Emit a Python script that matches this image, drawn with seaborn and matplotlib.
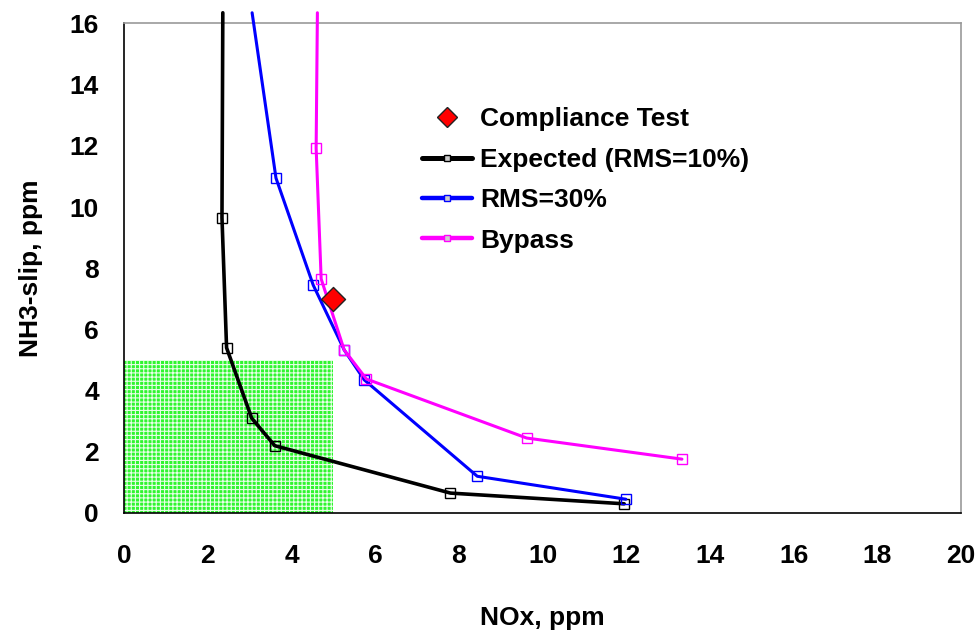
import matplotlib
matplotlib.use("Agg")
import matplotlib.pyplot as plt
from matplotlib.patches import Rectangle
from matplotlib.ticker import MultipleLocator
import seaborn as sns
import pandas as pd

# values (first point of each curve is where it leaves the top)
expected_nox = [2.36, 2.34, 2.45, 3.05, 3.6, 7.8, 11.95]
expected_nh3 = [16.35, 9.65, 5.4, 3.1, 2.2, 0.65, 0.3]
rms30_nox = [3.06, 3.63, 4.52, 5.26, 5.74, 8.44, 11.99]
rms30_nh3 = [16.35, 10.95, 7.45, 5.33, 4.35, 1.2, 0.45]
bypass_nox = [4.62, 4.59, 4.71, 5.26, 5.79, 9.62, 13.33]
bypass_nh3 = [16.35, 11.93, 7.65, 5.33, 4.38, 2.45, 1.76]
compliance_nox = [5.0]
compliance_nh3 = [7.0]
target_nox = 5
target_nh3 = 5

sns.set_style("white")
plt.rcParams['font.family'] = ['Liberation Sans', 'DejaVu Sans']
plt.rcParams['font.weight'] = 'bold'
plt.rcParams['text.color'] = 'black'
plt.rcParams['axes.labelcolor'] = 'black'
plt.rcParams['xtick.color'] = 'black'
plt.rcParams['ytick.color'] = 'black'
plt.rcParams['hatch.linewidth'] = 0.8

fig = plt.figure(figsize=(9.79, 6.33), dpi=100)
ax = fig.add_axes([0.1267, 0.1896, 0.855, 0.7733])

# green target zone
ax.add_patch(Rectangle((0, 0), target_nox, target_nh3, facecolor='#30f530',
                       edgecolor='#e8ffe8', hatch='++++', linewidth=0, zorder=1))

series = [
    ('Expected (RMS=10%)', expected_nox, expected_nh3, 'black', 2.6),
    ('RMS=30%', rms30_nox, rms30_nh3, 'blue', 2.2),
    ('Bypass', bypass_nox, bypass_nh3, '#ff00ff', 2.2),
]
handles = []
for name, xs, ys, col, lw in series:
    df = pd.DataFrame({'NOx': xs, 'NH3': ys})
    sns.lineplot(data=df, x='NOx', y='NH3', sort=False, estimator=None, ax=ax,
                 color=col, linewidth=lw, marker='s', markersize=7,
                 markerfacecolor='none', markeredgecolor=col, markeredgewidth=1.0,
                 markevery=list(range(1, len(xs))), clip_on=False, zorder=3)
    handles.append(plt.Line2D([], [], color=col, linewidth=lw + 1, marker='s',
                              markersize=5, markerfacecolor='#cccccc',
                              markeredgecolor=col, label=name))

comp = pd.DataFrame({'NOx': compliance_nox, 'NH3': compliance_nh3})
sns.scatterplot(data=comp, x='NOx', y='NH3', ax=ax, marker='D', s=150,
                color='red', edgecolor='#222222', linewidth=1, zorder=4)
comp_handle = plt.Line2D([], [], linestyle='none', marker='D', markersize=10,
                         markerfacecolor='red', markeredgecolor='#222222',
                         label='Compliance Test')

ax.legend(handles=[comp_handle] + handles, loc='upper left',
          bbox_to_anchor=(0.328, 0.877), frameon=False,
          handlelength=1.9, handletextpad=0.3, labelspacing=0.62,
          prop={'weight': 'bold', 'size': 19})

ax.set_xlim(0, 20)
ax.set_ylim(0, 16)
ax.xaxis.set_major_locator(MultipleLocator(2))
ax.xaxis.set_minor_locator(MultipleLocator(1))
ax.yaxis.set_major_locator(MultipleLocator(2))
ax.yaxis.set_minor_locator(MultipleLocator(1))
ax.tick_params(axis='both', which='both', direction='in', length=7, width=1,
               color='#222222')
ax.tick_params(axis='x', which='major', pad=22, labelsize=19)
ax.tick_params(axis='y', which='major', pad=18, labelsize=19)
for lab in ax.get_xticklabels() + ax.get_yticklabels():
    lab.set_fontweight('bold')

for side in ['left', 'bottom']:
    ax.spines[side].set_color('black')
    ax.spines[side].set_linewidth(1.2)
for side in ['top', 'right']:
    ax.spines[side].set_color('#999999')
    ax.spines[side].set_linewidth(1.2)

ax.set_xlabel('NOx, ppm', fontsize=19, fontweight='bold', labelpad=28)
ax.set_ylabel('NH3-slip, ppm', fontsize=19, fontweight='bold', labelpad=19)

fig.savefig('out.png', dpi=100)
